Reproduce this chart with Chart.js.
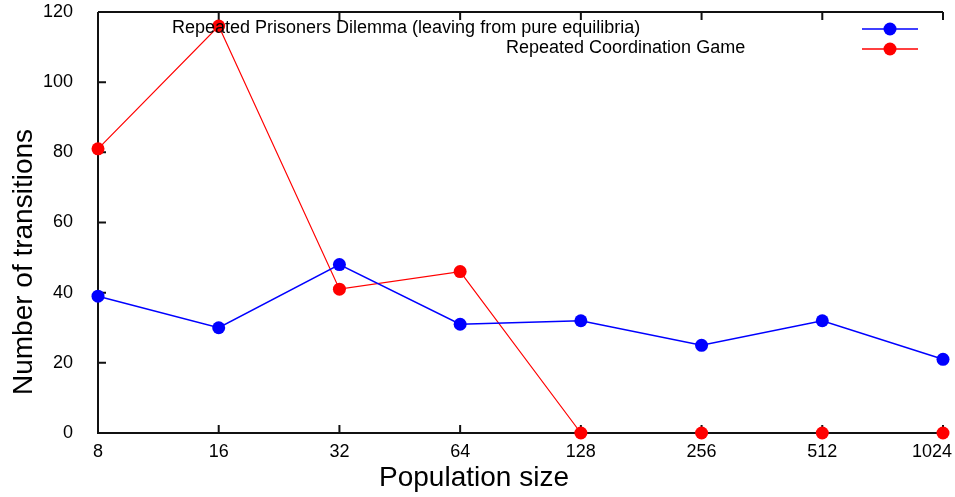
<!DOCTYPE html>
<html><head><meta charset="utf-8">
<script src="https://cdn.jsdelivr.net/npm/chart.js@4.4.0/dist/chart.umd.min.js"></script>
<style>html,body{margin:0;padding:0;background:#fff;}canvas{display:block;}</style>
</head><body>
<canvas id="c" width="955" height="497"></canvas>
<script>
const categories = ['8','16','32','64','128','256','512','1024'];
const prisonersValues = [39,30,48,31,32,25,32,21];
const coordinationValues = [81,116,41,46,0,0,0,0];
const yTicks = [0,20,40,60,80,100,120];
const seriesLabels = ['Repeated Prisoners Dilemma (leaving from pure equilibria)','Repeated Coordination Game'];
const seriesColors = ['#0000ff','#ff0000'];
const xTitle = 'Population size';
const yTitle = 'Number of transitions';
const FONT = '"Liberation Sans", Arial, sans-serif';

const framePlugin = {
  id: 'frame',
  beforeDatasetsDraw(chart) {
    const {ctx, chartArea: a, scales: {x, y}} = chart;
    ctx.save();
    ctx.strokeStyle = '#111';
    ctx.lineWidth = 2;
    ctx.beginPath();
    ctx.moveTo(a.left, a.top); ctx.lineTo(a.left, a.bottom); ctx.lineTo(a.right, a.bottom);
    ctx.moveTo(a.left, a.top); ctx.lineTo(a.right, a.top);
    yTicks.forEach(v => { const py = y.getPixelForValue(v); ctx.moveTo(a.left, py); ctx.lineTo(a.left + 8, py); });
    categories.forEach((c, i) => {
      const px = x.getPixelForValue(i);
      ctx.moveTo(px, a.bottom); ctx.lineTo(px, a.bottom - 8);
      ctx.moveTo(px, a.top); ctx.lineTo(px, a.top + 8);
    });
    ctx.stroke();
    ctx.restore();
  },
  afterDraw(chart) {
    const {ctx, chartArea: a, scales: {x}} = chart;
    ctx.save();
    ctx.fillStyle = '#000';
    ctx.font = '18px ' + FONT;
    ctx.textAlign = 'center';
    ctx.textBaseline = 'middle';
    categories.forEach((c, i) => {
      const px = x.getPixelForValue(i);
      const w = ctx.measureText(c).width;
      const cx = Math.min(px, chart.width - 3 - w / 2);
      ctx.fillText(c, cx, 452);
    });
    ctx.font = '28px ' + FONT;
    ctx.fillText(xTitle, 474, 478);
    ctx.save();
    ctx.translate(24, 262);
    ctx.rotate(-Math.PI / 2);
    ctx.fillText(yTitle, 0, 0);
    ctx.restore();
    ctx.font = '18px ' + FONT;
    ctx.textAlign = 'left';
    ctx.fillText(seriesLabels[0], 172, 28);
    ctx.fillText(seriesLabels[1], 506, 48);
    [29, 49].forEach((ly, i) => {
      ctx.strokeStyle = seriesColors[i];
      ctx.lineWidth = 1.5;
      ctx.beginPath(); ctx.moveTo(862, ly); ctx.lineTo(918, ly); ctx.stroke();
      ctx.fillStyle = seriesColors[i];
      ctx.beginPath(); ctx.arc(890, ly, 6.5, 0, Math.PI * 2); ctx.fill();
    });
    ctx.restore();
  }
};

new Chart(document.getElementById('c'), {
  type: 'line',
  data: {
    labels: categories,
    datasets: [
      { label: seriesLabels[0], data: prisonersValues, borderColor: seriesColors[0], backgroundColor: seriesColors[0],
        borderWidth: 1.5, pointRadius: 6.5, pointHoverRadius: 6.5, pointBorderWidth: 0, tension: 0, clip: false },
      { label: seriesLabels[1], data: coordinationValues, borderColor: seriesColors[1], backgroundColor: seriesColors[1],
        borderWidth: 1.2, pointRadius: 6.5, pointHoverRadius: 6.5, pointBorderWidth: 0, tension: 0, clip: false,
        segment: { borderColor: c => (c.p0.parsed.y === 0 && c.p1.parsed.y === 0) ? 'rgba(0,0,0,0)' : undefined } }
    ]
  },
  options: {
    responsive: false,
    animation: false,
    events: [],
    layout: { padding: { top: 12, right: 12, left: 0, bottom: 0 } },
    plugins: { legend: { display: false }, tooltip: { enabled: false } },
    scales: {
      x: {
        type: 'category', offset: false,
        grid: { display: false, drawTicks: false }, border: { display: false },
        ticks: { display: false },
        afterFit(s) { s.height = 64; s.paddingLeft = 0; s.paddingRight = 0; s.paddingTop = 0; s.paddingBottom = 0; }
      },
      y: {
        min: 0, max: 120,
        grid: { display: false, drawTicks: false }, border: { display: false },
        ticks: { stepSize: 20, padding: 25, color: '#000', font: { family: FONT, size: 18 } },
        afterFit(s) { s.width = 98; s.paddingTop = 0; s.paddingBottom = 0; s.paddingLeft = 0; s.paddingRight = 0; }
      }
    }
  },
  plugins: [framePlugin]
});
</script>
</body></html>
